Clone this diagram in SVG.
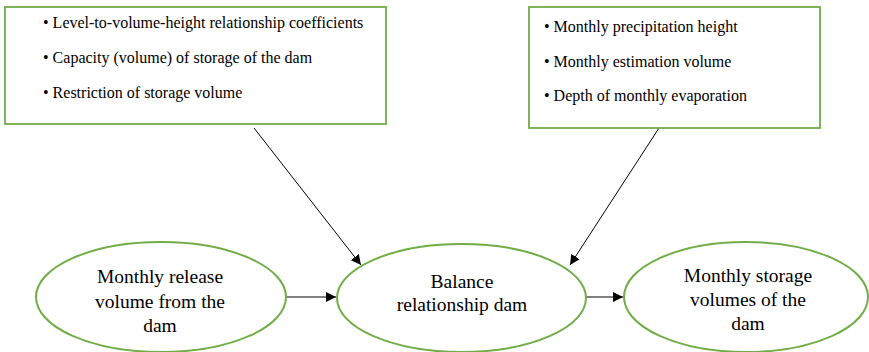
<svg xmlns="http://www.w3.org/2000/svg" width="869" height="352" viewBox="0 0 869 352">
<style>
.box{fill:#fff;stroke:#70AD47;stroke-width:1.8}
.ell{fill:#fff;stroke:#70AD47;stroke-width:2}
.bt{font-family:"Liberation Serif","Times New Roman",serif;font-size:16px;fill:#000}
.et{font-family:"Liberation Serif","Times New Roman",serif;font-size:19.5px;fill:#000;text-anchor:middle}
.con{stroke:#000;stroke-width:1;fill:none;marker-end:url(#ah)}
</style>
<defs>
<marker id="ah" viewBox="0 0 10 10" refX="10" refY="5" markerWidth="10" markerHeight="10" markerUnits="userSpaceOnUse" orient="auto">
<path d="M0,0 L10,5 L0,10 z" fill="#000"/>
</marker>
</defs>
<rect width="869" height="352" fill="#fff"/>
<g id="connectors">
<line class="con" x1="254" y1="128" x2="361" y2="265"/>
<line class="con" x1="659" y1="128" x2="570" y2="265"/>
<line class="con" x1="286" y1="297" x2="336" y2="297"/>
<line class="con" x1="586" y1="297" x2="623" y2="297"/>
</g>
<g id="box-left">
<rect class="box" x="5" y="7" width="381" height="117"/>
<text class="bt" x="43" y="28">• Level-to-volume-height relationship coefficients</text>
<text class="bt" x="43" y="63">• Capacity (volume) of storage of the dam</text>
<text class="bt" x="43" y="98">• Restriction of storage volume</text>
</g>
<g id="box-right">
<rect class="box" x="529" y="7" width="291" height="121"/>
<text class="bt" x="544" y="32">• Monthly precipitation height</text>
<text class="bt" x="544" y="67">• Monthly estimation volume</text>
<text class="bt" x="544" y="101">• Depth of monthly evaporation</text>
</g>
<g id="node-release">
<ellipse class="ell" cx="161" cy="297" rx="125" ry="55"/>
<text class="et" x="160" y="283">Monthly release</text>
<text class="et" x="160" y="308">volume from the</text>
<text class="et" x="160" y="332">dam</text>
</g>
<g id="node-balance">
<ellipse class="ell" cx="461.5" cy="298" rx="124.5" ry="54"/>
<text class="et" x="462" y="288">Balance</text>
<text class="et" x="462" y="311">relationship dam</text>
</g>
<g id="node-storage">
<ellipse class="ell" cx="746" cy="297" rx="122" ry="55"/>
<text class="et" x="748" y="282">Monthly storage</text>
<text class="et" x="748" y="306">volumes of the</text>
<text class="et" x="748" y="330">dam</text>
</g>
</svg>
